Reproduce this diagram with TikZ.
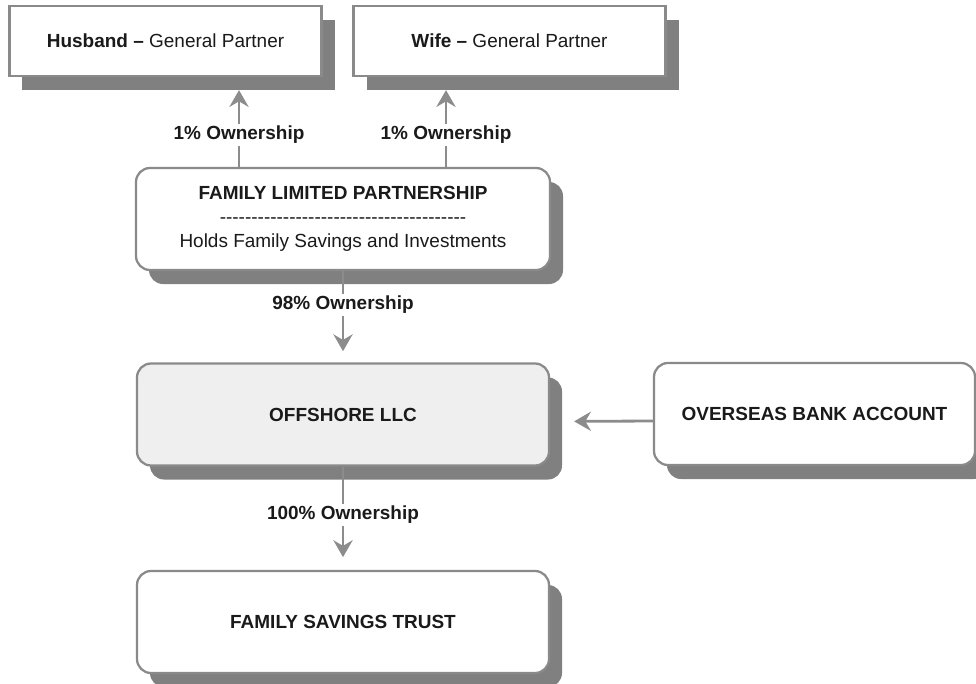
\documentclass[tikz,border=0pt]{standalone}
\usepackage{fontspec}
\setmainfont{Liberation Sans}
\usepackage{tikz}
\usetikzlibrary{arrows.meta,shadows,calc}
\definecolor{boxgray}{HTML}{8A8A8A}
\definecolor{shadowgray}{HTML}{808080}
\definecolor{linegray}{HTML}{8C8C8C}
\definecolor{offshorefill}{HTML}{EFEFEF}
\definecolor{inkblack}{HTML}{1A1A1A}
\newcommand{\diagfont}{\fontsize{13.5}{16}\selectfont}
\newcommand{\dashline}{\foreach \k in {1,...,39}{-}}
\tikzset{
  plainbox/.style={draw=boxgray, line width=1.6pt, fill=white, inner sep=0pt,
    text=inkblack, font=\diagfont, minimum height=2.55cm,
    drop shadow={shadow xshift=0.325cm, shadow yshift=-0.35cm, fill=shadowgray, opacity=1}},
  partnerbox/.style={plainbox, minimum width=7.8cm, minimum height=1.75cm},
  entitybox/.style={plainbox, rounded corners=0.35cm, minimum width=10.3cm, font=\diagfont\bfseries},
  ownlabel/.style={inner sep=1.5pt, text=inkblack, font=\diagfont\bfseries},
  conn/.style={draw=linegray, line width=2pt},
  arrowtip/.style={-{Stealth[length=0.42cm, width=0.48cm, inset=0.14cm]}},
}
\begin{document}
\begin{tikzpicture}
  \useasboundingbox (0,0) rectangle (24.4,17.075);
  % partners
  \node[partnerbox] (hus) at (4.1375,16.05) {\textbf{Husband –} General Partner};
  \node[partnerbox] (wife) at (12.7375,16.05) {\textbf{Wife –} General Partner};
  % entities
  \node[entitybox, minimum width=10.35cm, align=center] (flp) at (8.575,11.6)
    {FAMILY LIMITED PARTNERSHIP\\[1pt]\mdseries\dashline\\[1pt]\mdseries Holds Family Savings and Investments};
  \node[entitybox, fill=offshorefill] (off) at (8.575,6.7125) {OFFSHORE LLC};
  \node[entitybox, minimum width=8.025cm] (ovs) at (20.3625,6.725) {OVERSEAS BANK ACCOUNT};
  \node[entitybox] (trust) at (8.575,1.525) {FAMILY SAVINGS TRUST};
  % ownership labels
  \node[ownlabel] (own1) at (5.975,13.7) {1\% Ownership};
  \node[ownlabel] (own2) at (11.15,13.7) {1\% Ownership};
  \node[ownlabel] (own3) at (8.575,9.45) {98\% Ownership};
  \node[ownlabel] (own4) at (8.575,4.2) {100\% Ownership};
  % connectors
  \draw[conn] (flp.north -| own1) -- (own1);
  \draw[conn, arrowtip, shorten >=0.325cm] (own1) -- (hus.south -| own1);
  \draw[conn] (flp.north -| own2) -- (own2);
  \draw[conn, arrowtip, shorten >=0.325cm] (own2) -- (wife.south -| own2);
  \draw[conn] (flp.south) -- (own3);
  \draw[conn, arrowtip, shorten >=0.28cm] (own3) -- (off.north);
  \draw[conn] (off.south) -- (own4);
  \draw[conn, arrowtip, shorten >=0.32cm] (own4) -- (trust.north);
  \draw[conn, arrowtip, shorten >=0.6cm] ([yshift=-0.175cm]ovs.west) -- ([yshift=-0.175cm]off.east);
\end{tikzpicture}
\end{document}
